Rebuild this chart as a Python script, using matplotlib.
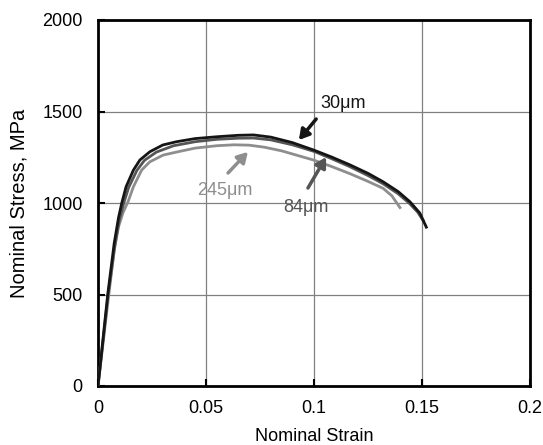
import numpy as np
import matplotlib.pyplot as plt

plt.rcParams['font.family'] = ['Liberation Sans', 'DejaVu Sans']

# nominal stress-strain curves for three grain sizes
strain_30 = [0, 0.0045, 0.0075, 0.0095, 0.011, 0.013, 0.0164, 0.0194, 0.024, 0.030,
             0.0364, 0.045, 0.055, 0.065, 0.072, 0.08, 0.09, 0.0997, 0.108, 0.1167,
             0.125, 0.132, 0.139, 0.1444, 0.149, 0.152]
stress_30 = [0, 500, 780, 920, 1000, 1089, 1180, 1235, 1280, 1317,
             1335, 1352, 1362, 1370, 1372, 1360, 1330, 1290, 1252, 1208,
             1162, 1116, 1062, 1007, 945, 868]

strain_84 = [0, 0.0047, 0.0078, 0.0098, 0.0118, 0.0142, 0.018, 0.0215, 0.027, 0.035,
             0.045, 0.055, 0.065, 0.072, 0.08, 0.09, 0.1, 0.108, 0.1167, 0.125,
             0.132, 0.139, 0.144, 0.148, 0.1505]
stress_84 = [0, 500, 770, 905, 995, 1085, 1178, 1233, 1278, 1313,
             1335, 1348, 1354, 1355, 1345, 1318, 1282, 1243, 1198, 1150,
             1105, 1050, 1000, 950, 905]

strain_245 = [0, 0.005, 0.0075, 0.0095, 0.0115, 0.014, 0.0164, 0.0202, 0.024, 0.0302,
              0.037, 0.045, 0.055, 0.063, 0.07, 0.077, 0.085, 0.0997, 0.108, 0.1167,
              0.125, 0.132, 0.136, 0.1398]
stress_245 = [0, 500, 740, 870, 945, 1010, 1089, 1180, 1225, 1262,
              1280, 1300, 1313, 1318, 1316, 1305, 1285, 1235, 1200, 1160,
              1118, 1080, 1040, 975]

x_ticks = [0, 0.05, 0.1, 0.15, 0.2]
x_tick_labels = ['0', '0.05', '0.1', '0.15', '0.2']
y_ticks = [0, 500, 1000, 1500, 2000]

c30, c84, c245 = '#151515', '#555555', '#8e8e8e'

fig = plt.figure(figsize=(5.43, 4.45), dpi=100)
ax = fig.add_axes([98/543, 1 - 386/445, 432/543, 366/445])

ax.plot(strain_245, stress_245, color=c245, lw=2.0, zorder=3)
ax.plot(strain_84, stress_84, color=c84, lw=2.0, zorder=4)
ax.plot(strain_30, stress_30, color=c30, lw=2.0, zorder=5)

# arrows and labels
def arrow(head, tail, color):
    ax.annotate('', xy=head, xytext=tail, zorder=6,
                arrowprops=dict(arrowstyle='-|>,head_length=0.6,head_width=0.35',
                                lw=2.5, color=color, shrinkA=0, shrinkB=0))

arrow((0.093, 1344), (0.101, 1459), c30)
ax.text(0.103, 1545, '30\u03bcm', fontsize=13, color=c30, va='center')

arrow((0.1056, 1251), (0.0972, 1082), c84)
ax.text(0.0858, 978, '84\u03bcm', fontsize=13, color=c84, va='center')

arrow((0.0694, 1279), (0.0602, 1164), c245)
ax.text(0.0458, 1071, '245\u03bcm', fontsize=13, color=c245, va='center')

ax.set_xlim(0, 0.2)
ax.set_ylim(0, 2000)
ax.set_xticks(x_ticks)
ax.set_xticklabels(x_tick_labels)
ax.set_yticks(y_ticks)
ax.grid(True, color='#808080', lw=0.9)
ax.set_axisbelow(True)
ax.tick_params(direction='in', length=5, width=1.5, labelsize=13)
ax.tick_params(axis='x', pad=10)
ax.tick_params(axis='y', pad=11)
for s in ax.spines.values():
    s.set_linewidth(2)

ax.set_xlabel('Nominal Strain', fontsize=13, labelpad=8)
ax.set_ylabel('Nominal Stress, MPa', fontsize=14.5, labelpad=10)

fig.savefig('out.png', dpi=100)
